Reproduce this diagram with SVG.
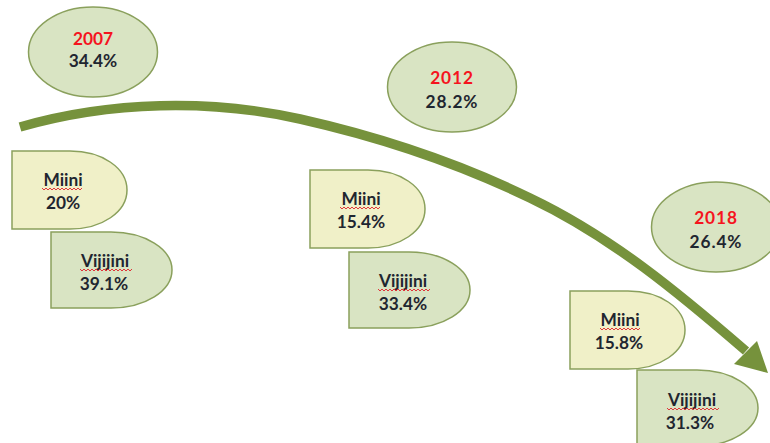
<svg xmlns="http://www.w3.org/2000/svg" width="770" height="443" viewBox="0 0 770 443">
<style>
.e{fill:#d9e4c3;stroke:#8aa05c;stroke-width:1.5}
.m{fill:#f0f0c8;stroke:#8aa05c;stroke-width:1.5}
.v{fill:#d9e4c3;stroke:#8aa05c;stroke-width:1.5}
text{font-family:"Lato","Open Sans","Liberation Sans",sans-serif;font-size:17.3px;font-weight:700;fill:#1f2630;text-anchor:middle}
.s{letter-spacing:.9px}
.y{fill:#f5141e}
.w{fill:none;stroke:#e0202a;stroke-width:.9}
</style>
<defs>
<path id="mi" class="m" d="M0,0H58C90,0 115,17 115,39C115,61 90,78 58,78H0Z"/>
<path id="vi" class="v" d="M0,0H60C94,0 121,17 121,38C121,59 94,76 60,76H0Z"/>
<path id="wm" class="w" d="M0,0l2,2l2,-2l2,2l2,-2l2,2l2,-2l2,2l2,-2l2,2l2,-2l2,2l2,-2l2,2l2,-2l2,2l2,-2l2,2l2,-2l2,2l2,-2"/>
<path id="wv" class="w" d="M0,0l2,2l2,-2l2,2l2,-2l2,2l2,-2l2,2l2,-2l2,2l2,-2l2,2l2,-2l2,2l2,-2l2,2l2,-2l2,2l2,-2l2,2l2,-2l2,2l2,-2l2,2l2,-2l2,2l2,-2"/>
</defs>
<g id="connectors">
<path d="M20,127C110,101 210,99 300,119C380,137 460,164 530,198C612,237 680,294 746,351" fill="none" stroke="#76923c" stroke-width="9.5"/>
<polygon points="768,373 734,364 757,341" fill="#76923c"/>
</g>
<g id="node-2007"><ellipse class="e" cx="93" cy="52" rx="64.5" ry="45"/><text class="y" x="93" y="45">2007</text><text x="93" y="67">34.4%</text></g>
<g id="node-2012"><ellipse class="e" cx="452" cy="87" rx="64.5" ry="45"/><text class="y s" x="452" y="84">2012</text><text class="s" x="452" y="108">28.2%</text></g>
<g id="node-2018"><ellipse class="e" cx="716" cy="227" rx="64.5" ry="45"/><text class="y s" x="716" y="224">2018</text><text class="s" x="716" y="248">26.4%</text></g>
<g id="miini-2007"><use href="#mi" x="12" y="151"/><text x="63" y="186">Miini</text><text x="63" y="209">20%</text><use href="#wm" x="42" y="188"/></g>
<g id="vijijini-2007"><use href="#vi" x="51" y="232"/><text x="105" y="267">Vijijini</text><text x="104" y="290">39.1%</text><use href="#wv" x="80" y="269"/></g>
<g id="miini-2012"><use href="#mi" x="310" y="170"/><text x="361" y="205">Miini</text><text x="361" y="228">15.4%</text><use href="#wm" x="340" y="207"/></g>
<g id="vijijini-2012"><use href="#vi" x="349" y="252"/><text x="403" y="287">Vijijini</text><text x="403" y="310">33.4%</text><use href="#wv" x="378" y="289"/></g>
<g id="miini-2018"><use href="#mi" x="570" y="291"/><text x="620" y="326">Miini</text><text x="619" y="349">15.8%</text><use href="#wm" x="600" y="328"/></g>
<g id="vijijini-2018"><use href="#vi" x="637" y="370"/><text x="692" y="406">Vijijini</text><text x="690" y="429">31.3%</text><use href="#wv" x="667" y="408"/></g>
</svg>
